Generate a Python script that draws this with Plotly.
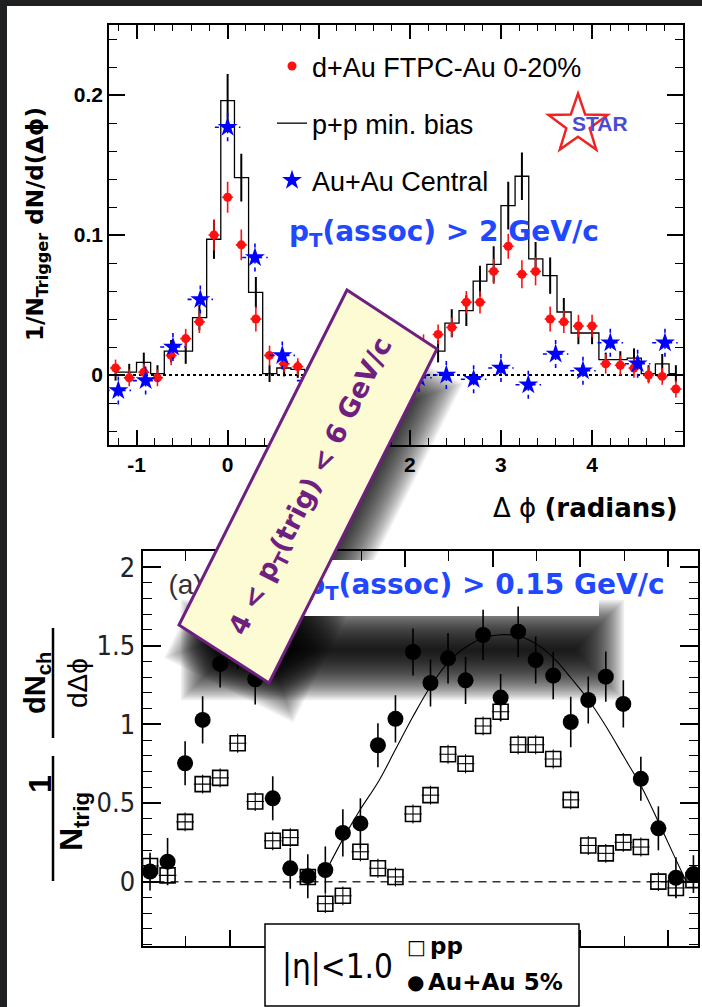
import math
import plotly.graph_objects as go

W, H = 702, 1007

# ---------------- Top panel data (4 < pT(trig) < 6, pT(assoc) > 2 GeV/c) ----------------
dphi_bins = [-1.23, -1.08, -0.92, -0.77, -0.62, -0.46, -0.31, -0.15, 0.0, 0.15, 0.31,
             0.46, 0.62, 0.77, 0.92, 1.08, 1.23, 1.38, 1.54, 1.69, 1.85, 2.0, 2.15,
             2.31, 2.46, 2.62, 2.77, 2.92, 3.08, 3.23, 3.38, 3.54, 3.69, 3.85, 4.0,
             4.15, 4.31, 4.46, 4.62, 4.77, 4.92]
dau_y = [0.005, -0.002, 0.002, -0.002, 0.014, 0.026, 0.038, 0.100, 0.127, 0.093, 0.040,
         0.014, 0.008, 0.006, 0.005, 0.004, 0.006, 0.008, 0.010, 0.012, 0.015, 0.018, 0.022,
         0.029, 0.034, 0.052, 0.052, 0.074, 0.092, 0.072, 0.074, 0.040, 0.038, 0.035, 0.035,
         0.008, 0.007, 0.005, 0.000, -0.001, -0.010]
dau_err = [0.006, 0.006, 0.006, 0.006, 0.007, 0.007, 0.008, 0.011, 0.011, 0.011, 0.009,
           0.007, 0.006, 0.006, 0.006, 0.006, 0.006, 0.006, 0.006, 0.006, 0.006, 0.007, 0.007,
           0.007, 0.007, 0.008, 0.008, 0.009, 0.009, 0.010, 0.010, 0.009, 0.008, 0.008, 0.008,
           0.007, 0.007, 0.007, 0.006, 0.006, 0.006]
pp_y = [0.002, 0.002, 0.009, 0.001, 0.017, 0.017, 0.041, 0.097, 0.196, 0.141, 0.059,
        0.001, 0.005, 0.004, 0.003, 0.004, 0.005, 0.006, 0.008, 0.010, 0.012, 0.014, 0.016,
        0.017, 0.037, 0.046, 0.067, 0.079, 0.121, 0.142, 0.083, 0.071, 0.045, 0.030, 0.030,
        0.011, 0.011, 0.012, 0.001, 0.008, 0.001]
pp_err = [0.006, 0.006, 0.007, 0.006, 0.008, 0.009, 0.009, 0.014, 0.019, 0.017, 0.011,
          0.006, 0.006, 0.006, 0.006, 0.006, 0.006, 0.006, 0.006, 0.006, 0.006, 0.006, 0.006,
          0.008, 0.010, 0.011, 0.011, 0.013, 0.017, 0.017, 0.012, 0.013, 0.010, 0.008, 0.008,
          0.005, 0.006, 0.007, 0.006, 0.007, 0.006]
auau_x = [-1.2, -0.9, -0.6, -0.3, 0.0, 0.3, 0.6, 0.9, 1.2, 1.5, 1.8, 2.1, 2.4, 2.7, 3.0,
          3.3, 3.6, 3.9, 4.2, 4.5, 4.8]
auau_y = [-0.011, -0.004, 0.020, 0.054, 0.177, 0.084, 0.014, -0.004, 0.002, 0.000, 0.003,
          -0.002, 0.000, -0.003, 0.005, -0.007, 0.015, 0.003, 0.023, 0.008, 0.023]
auau_err = [0.010] * 21
auau_xerr = [0.14] * 21

# ---------------- Bottom panel data (pT(assoc) > 0.15 GeV/c) ----------------
b_dphi = [-0.91, -0.71, -0.51, -0.31, -0.11, 0.09, 0.29, 0.49, 0.69, 0.89, 1.09, 1.29,
          1.49, 1.69, 1.89, 2.09, 2.29, 2.49, 2.69, 2.89, 3.09, 3.29, 3.49, 3.69, 3.89,
          4.09, 4.29, 4.49, 4.69, 4.89, 5.09, 5.29]
b_auau_y = [0.064, 0.127, 0.753, 1.028, 1.384, 1.50, 1.287, 0.530, 0.085, 0.035, 0.074,
            0.31, 0.37, 0.867, 1.035, 1.46, 1.263, 1.42, 1.28, 1.568, 1.17, 1.589, 1.409,
            1.31, 1.015, 1.155, 1.303, 1.13, 0.654, 0.339, 0.025, 0.048]
b_auau_err = [0.12, 0.15, 0.14, 0.15, 0.15, 0.15, 0.16, 0.14, 0.13, 0.14, 0.15, 0.15,
              0.16, 0.14, 0.15, 0.15, 0.15, 0.16, 0.15, 0.16, 0.15, 0.16, 0.15, 0.15,
              0.16, 0.15, 0.16, 0.15, 0.14, 0.14, 0.13, 0.12]
b_pp_y = [0.10, 0.04, 0.38, 0.62, 0.66, 0.88, 0.51, 0.26, 0.28, 0.03, -0.14, -0.09,
          0.19, 0.085, 0.03, 0.43, 0.55, 0.81, 0.75, 0.99, 1.08, 0.87, 0.87, 0.78,
          0.52, 0.23, 0.18, 0.25, 0.22, 0.0, -0.04, 0.01]
b_pp_err = [0.06] * 32
fit_x = [1.10, 1.30, 1.49, 1.70, 1.89, 2.09, 2.30, 2.50, 2.69, 2.90, 3.09, 3.30, 3.50,
         3.70, 3.90, 4.10, 4.30, 4.49, 4.70, 4.89, 5.09, 5.20]
fit_y = [0.07, 0.28, 0.46, 0.64, 0.84, 1.05, 1.25, 1.40, 1.49, 1.55, 1.57, 1.56, 1.51,
         1.42, 1.29, 1.15, 0.98, 0.80, 0.60, 0.38, 0.14, 0.01]

top_xticks = [-1, 0, 1, 2, 3, 4]
top_xticklabels = ["-1", "0", "1", "2", "3", "4"]
top_yticks = [0, 0.1, 0.2]
top_yticklabels = ["0", "0.1", "0.2"]
bot_yticks = [0, 0.5, 1, 1.5, 2]
bot_yticklabels = ["0", "0.5", "1", "1.5", "2"]

ARIAL = "Liberation Sans, Arial, Helvetica, sans-serif"
DEJAVU = "DejaVu Sans, Verdana, sans-serif"
NARROW = "Liberation Sans Narrow, Arial Narrow, DejaVu Sans Condensed, Liberation Sans, sans-serif"
BLUE_TXT = "#1f48ff"
PURPLE = "#6e1f80"


def px(x):
    return x / W


def py(y):
    return 1 - y / H


def poly_path(pts):
    return "M " + " L ".join(f"{px(x):.5f},{py(y):.5f}" for x, y in pts) + " Z"


def rot_rect(cx, cy, hl, hw, ang_deg):
    a = math.radians(ang_deg)
    ux, uy = math.cos(a), -math.sin(a)
    vx, vy = math.sin(a), math.cos(a)
    return [(cx + hl * ux - hw * vx, cy + hl * uy - hw * vy),
            (cx + hl * ux + hw * vx, cy + hl * uy + hw * vy),
            (cx - hl * ux + hw * vx, cy - hl * uy + hw * vy),
            (cx - hl * ux - hw * vx, cy - hl * uy - hw * vy)]


fig = go.Figure()

# ---- top panel traces ----
fig.add_trace(go.Scatter(
    x=dphi_bins, y=pp_y, mode="lines", name="p+p min. bias",
    line=dict(shape="hvh", color="black", width=1.3),
    error_y=dict(type="data", array=pp_err, color="black", thickness=2, width=0),
    legendgroup="g2", legendrank=2, xaxis="x", yaxis="y"))

fig.add_trace(go.Scatter(
    x=dphi_bins, y=dau_y, mode="markers", name="d+Au FTPC-Au 0-20%",
    marker=dict(color="#ff1010", size=9, symbol="circle"),
    error_y=dict(type="data", array=dau_err, color="#ff1010", thickness=1.6, width=0),
    error_x=dict(type="constant", value=0.06, color="#ff1010", thickness=1.6, width=0),
    legendgroup="g1", legendrank=1, xaxis="x", yaxis="y"))

# dashed error bars for Au+Au
ex, ey = [], []
for x, y, e, xe in zip(auau_x, auau_y, auau_err, auau_xerr):
    ex += [x - xe, x + xe, None, x, x, None]
    ey += [y, y, None, y - e, y + e, None]
fig.add_trace(go.Scatter(
    x=ex, y=ey, mode="lines", line=dict(color="#0000ff", width=1.6, dash="4px,4px"),
    showlegend=False, hoverinfo="skip", xaxis="x", yaxis="y"))
fig.add_trace(go.Scatter(
    x=auau_x, y=auau_y, mode="markers", name="Au+Au Central",
    marker=dict(color="#0000ff", size=15, symbol="star", line=dict(width=0)),
    legendgroup="g3", legendrank=3, xaxis="x", yaxis="y"))

# ---- bottom panel traces ----
fig.add_trace(go.Scatter(
    x=fit_x, y=fit_y, mode="lines", line=dict(color="black", width=1.1, shape="spline"),
    showlegend=False, hoverinfo="skip", xaxis="x2", yaxis="y2"))
fig.add_trace(go.Scatter(
    x=b_dphi, y=b_pp_y, mode="markers", name="pp", showlegend=False,
    marker=dict(symbol="square-open", size=15, color="black", line=dict(width=1.6)),
    error_y=dict(type="data", array=b_pp_err, color="black", thickness=1.1, width=0),
    error_x=dict(type="constant", value=0.1, color="black", thickness=1.1, width=0),
    xaxis="x2", yaxis="y2"))
fig.add_trace(go.Scatter(
    x=b_dphi, y=b_auau_y, mode="markers", name="Au+Au 5%", showlegend=False,
    marker=dict(symbol="circle", size=16, color="black"),
    error_y=dict(type="data", array=b_auau_err, color="black", thickness=1.6, width=0),
    xaxis="x2", yaxis="y2"))
fig.add_trace(go.Scatter(
    x=[-0.70, 0.86], y=[1.875, 1.875], mode="text",
    text=["(a)", "<b>p<sub>T</sub>(assoc) &gt; 0.15 GeV/c</b>"],
    textposition="middle right",
    textfont=dict(family=[ARIAL, DEJAVU], size=[28, 28], color=["#333333", BLUE_TXT]),
    showlegend=False, hoverinfo="skip", xaxis="x2", yaxis="y2"))

# ---------------- shapes ----------------
shapes = []
# white slide area on dark background
shapes.append(dict(type="rect", xref="paper", yref="paper", x0=px(7), x1=px(702),
                   y0=py(1007), y1=py(6), fillcolor="white", line=dict(width=0), layer="below"))

# soft shadows (stack of translucent layers)
K = 30
for i in range(K):
    e = 23 * (1 - 2 * (i + 0.5) / K)
    shapes.append(dict(type="path", xref="paper", yref="paper",
                       path=poly_path(rot_rect(313.6, 520.6, 167.5 + e, 50 + e, 63.4)),
                       fillcolor="rgba(0,0,0,0.052)", line=dict(width=0), layer="below"))
for i in range(K):
    e = 25 * (1 - 2 * (i + 0.5) / K)
    pts = [(205 - e, 624 - e), (600 + e, 624 - e), (600 + e, 676 + e), (205 - e, 676 + e)]
    shapes.append(dict(type="path", xref="paper", yref="paper", path=poly_path(pts),
                       fillcolor="rgba(0,0,0,0.065)", line=dict(width=0), layer="below"))
# white label patch behind pT(assoc) text
shapes.append(dict(type="rect", xref="paper", yref="paper", x0=px(200), x1=px(599),
                   y0=py(616), y1=py(560), fillcolor="white", line=dict(width=0), layer="below"))

# zero lines
shapes.append(dict(type="line", xref="x", yref="y", x0=-1.302, x1=4.998, y0=0, y1=0,
                   line=dict(color="black", width=2, dash="3px,3px"), layer="below"))
shapes.append(dict(type="line", xref="x2", yref="y2", x0=-0.996, x1=5.342, y0=0, y1=0,
                   line=dict(color="#333333", width=1.5, dash="8px,6px"), layer="below"))

# STAR logo star outline
cx, cy, R, r = 578, 124.5, 31, 12.3
star_pts = []
for k in range(10):
    ang = math.radians(-90 + 36 * k)
    rad = R if k % 2 == 0 else r
    star_pts.append((cx + rad * math.cos(ang), cy + rad * math.sin(ang)))
shapes.append(dict(type="path", xref="paper", yref="paper", path=poly_path(star_pts),
                   line=dict(color="#ee2424", width=2.5), fillcolor="rgba(0,0,0,0)", layer="above"))

# bottom y-title fraction bars
shapes.append(dict(type="line", xref="paper", yref="paper", x0=px(53), x1=px(53),
                   y0=py(881), y1=py(756), line=dict(color="black", width=2.5), layer="above"))
shapes.append(dict(type="line", xref="paper", yref="paper", x0=px(53), x1=px(53),
                   y0=py(738), y1=py(628), line=dict(color="black", width=2.5), layer="above"))

# bottom legend box
shapes.append(dict(type="rect", xref="paper", yref="paper", x0=px(265), x1=px(579),
                   y0=py(1006), y1=py(924), fillcolor="white",
                   line=dict(color="black", width=1.5), layer="above"))

# rotated yellow label box
box_pts = [(347, 290), (437, 349), (269, 683), (179, 625)]
shapes.append(dict(type="path", xref="paper", yref="paper", path=poly_path(box_pts),
                   fillcolor="#fdfbd4", line=dict(color=PURPLE, width=3), layer="above"))

# ---------------- annotations ----------------
ann = []


def A(text, x, y, size, family=ARIAL, color="black", xanchor="center", yanchor="middle", angle=0):
    ann.append(dict(text=text, x=px(x), y=py(y), xref="paper", yref="paper", showarrow=False,
                    xanchor=xanchor, yanchor=yanchor, textangle=angle,
                    font=dict(family=family, size=size, color=color)))


A("<b>1/N<sub>Trigger</sub> dN/d(Δϕ)</b>", 37, 224, 23, DEJAVU, angle=-90)
A("Δ ϕ <b>(radians)</b>", 680, 508, 26, DEJAVU, xanchor="right")
A("<b>p<sub>T</sub>(assoc) &gt; 2 GeV/c</b>", 287, 233, 28, DEJAVU, color=BLUE_TXT, xanchor="left")
A("<b>STAR</b>", 600, 124, 21, ARIAL, color="#4a4ad2")

A("<b>1</b>", 40, 784, 32, ARIAL, angle=-90)
A("<b>N<sub>trig</sub></b>", 73, 822, 32, ARIAL, angle=-90)
A("<b>dN<sub>ch</sub></b>", 37, 683, 29, ARIAL, angle=-90)
A("dΔϕ", 77, 683, 28, ARIAL, angle=-90)

A("|η|&lt;1.0", 280, 966, 33, NARROW, xanchor="left")
A("□", 405, 947, 20, DEJAVU, xanchor="left")
A("<b>pp</b>", 428, 946, 23, DEJAVU, xanchor="left")
A("●", 405, 982, 20, DEJAVU, xanchor="left")
A("<b>Au+Au 5%</b>", 426, 982, 23, DEJAVU, xanchor="left")

A("<b>4 &lt; p<sub>T</sub>(trig) &lt; 6 GeV/c</b>", 311, 487, 27, DEJAVU, color=PURPLE, angle=-63.2)

tick_common = dict(showline=True, linecolor="black", mirror="ticks", ticks="inside",
                   tickcolor="black", showgrid=False, zeroline=False)

fig.update_layout(
    width=W, height=H, margin=dict(l=0, r=0, t=0, b=0),
    paper_bgcolor="#1e2022", plot_bgcolor="rgba(0,0,0,0)",
    shapes=shapes, annotations=ann,
    showlegend=True,
    legend=dict(x=px(272), y=py(42), xanchor="left", yanchor="top",
                font=dict(family=ARIAL, size=27, color="black"),
                bgcolor="rgba(0,0,0,0)", tracegroupgap=19, itemwidth=30),
    xaxis=dict(domain=[px(109), px(683)], range=[-1.302, 4.998], anchor="y",
               tickmode="array", tickvals=top_xticks, ticktext=top_xticklabels,
               ticklen=15, tickwidth=1.5, linewidth=1.5,
               minor=dict(dtick=0.2, tick0=0, ticklen=7, ticks="inside", tickcolor="black", tickwidth=1.2),
               tickfont=dict(family=ARIAL, size=21, color="black", weight="bold"),
               **tick_common),
    yaxis=dict(domain=[py(445), py(24.5)], range=[-0.05, 0.2504], anchor="x",
               tickmode="array", tickvals=top_yticks, ticktext=top_yticklabels,
               ticklen=16, tickwidth=1.5, linewidth=1.5,
               minor=dict(dtick=0.02, tick0=0, ticklen=8, ticks="inside", tickcolor="black", tickwidth=1.2),
               tickfont=dict(family=ARIAL, size=21, color="black", weight="bold"),
               **tick_common),
    xaxis2=dict(domain=[px(142.5), px(698)], range=[-0.996, 5.342], anchor="y2",
                tickmode="linear", tick0=0, dtick=1, ticklen=16, tickwidth=1.6, linewidth=2,
                minor=dict(dtick=0.5, tick0=0, ticklen=10, ticks="inside", tickcolor="black", tickwidth=1.4),
                showticklabels=False, **tick_common),
    yaxis2=dict(domain=[py(946), py(550.7)], range=[-0.409, 2.104], anchor="x2",
                tickmode="array", tickvals=bot_yticks, ticktext=bot_yticklabels,
                ticklen=18, tickwidth=1.6, linewidth=2,
                minor=dict(dtick=0.1, tick0=0, ticklen=9, ticks="inside", tickcolor="black", tickwidth=1.4),
                tickfont=dict(family=NARROW, size=27, color="#222222"),
                **tick_common),
)

fig.write_html("out.html", config={"displayModeBar": False})
